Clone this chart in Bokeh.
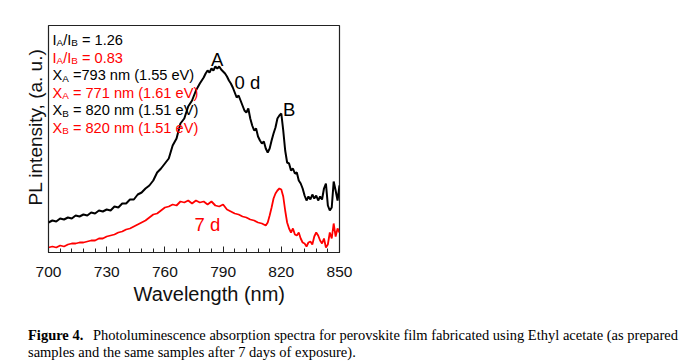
import math
from bokeh.plotting import figure
from bokeh.models import Range1d, Label, FixedTicker, Title, Div
from bokeh.layouts import column
from bokeh.embed import file_html
from bokeh.resources import INLINE

# ---------------- data ----------------
wl_0d = [700, 702, 704, 706, 708, 710, 712, 714, 716, 718, 720, 722, 724, 726, 728, 730,
         732, 734, 736, 738, 740, 742, 744, 746, 748, 750, 752, 754, 756, 758, 760, 762,
         764, 766, 768, 770, 772, 774, 776, 778, 780, 781, 782, 783, 784, 785, 786, 787,
         788, 789, 790, 791, 792, 793, 794, 795, 796, 797, 798, 799, 800, 801, 802, 803,
         804, 805, 806, 807, 808, 809, 810, 811, 812, 813, 814, 815, 816, 817, 818, 819,
         820, 821, 822, 823, 824, 825, 826, 827, 828, 829, 830, 831, 832, 833, 834, 835,
         836, 837, 838, 839, 840, 841, 842, 843, 844, 845, 846, 847, 848, 849, 850]
pl_0d = [0.30, 0.32, 0.31, 0.34, 0.33, 0.35, 0.34, 0.37, 0.36, 0.38, 0.37, 0.40, 0.39, 0.42, 0.41, 0.43,
         0.42, 0.46, 0.45, 0.49, 0.49, 0.53, 0.53, 0.58, 0.60, 0.64, 0.67, 0.72, 0.80, 0.84, 0.89, 0.94,
         1.07, 1.14, 1.29, 1.34, 1.46, 1.52, 1.62, 1.69, 1.75, 1.79, 1.82, 1.80, 1.84, 1.82, 1.86, 1.84,
         1.86, 1.83, 1.81, 1.79, 1.76, 1.72, 1.69, 1.65, 1.60, 1.55, 1.57, 1.52, 1.47, 1.42, 1.40, 1.44,
         1.34, 1.27, 1.22, 1.24, 1.16, 1.12, 1.09, 1.11, 1.04, 1.00, 1.04, 1.12, 1.19, 1.25, 1.34, 1.37,
         1.39, 1.22, 1.02, 0.90, 0.89, 0.82, 0.84, 0.79, 0.80, 0.72, 0.69, 0.64, 0.57, 0.52, 0.56, 0.53,
         0.58, 0.54, 0.57, 0.52, 0.56, 0.53, 0.64, 0.69, 0.47, 0.42, 0.45, 0.71, 0.62, 0.52, 0.67]

wl_7d = [700, 702, 704, 706, 708, 710, 712, 714, 716, 718, 720, 722, 724, 726, 728, 730,
         732, 734, 736, 738, 740, 742, 744, 746, 748, 750, 752, 754, 756, 758, 760, 762,
         764, 766, 768, 770, 772, 774, 776, 778, 780, 782, 784, 786, 788, 790, 792, 794,
         796, 798, 800, 802, 804, 806, 808, 810, 812, 813, 814, 815, 816, 817, 818, 819,
         820, 821, 822, 823, 824, 825, 826, 827, 828, 829, 830, 831, 832, 833, 834, 835,
         836, 837, 838, 839, 840, 841, 842, 843, 844, 845, 846, 847, 848, 849, 850]
pl_7d = [0.05, 0.06, 0.05, 0.07, 0.06, 0.08, 0.09, 0.09, 0.10, 0.10, 0.11, 0.12, 0.12, 0.14, 0.14, 0.16,
         0.17, 0.18, 0.20, 0.21, 0.23, 0.24, 0.26, 0.28, 0.30, 0.32, 0.35, 0.38, 0.39, 0.42, 0.45, 0.46,
         0.48, 0.47, 0.51, 0.50, 0.52, 0.49, 0.52, 0.50, 0.51, 0.48, 0.51, 0.47, 0.46, 0.48, 0.43, 0.41,
         0.39, 0.38, 0.36, 0.35, 0.33, 0.32, 0.30, 0.29, 0.27, 0.30, 0.37, 0.45, 0.54, 0.59, 0.62, 0.64,
         0.63, 0.56, 0.42, 0.30, 0.24, 0.20, 0.24, 0.18, 0.17, 0.20, 0.14, 0.10, 0.09, 0.06, 0.10, 0.11,
         0.08, 0.16, 0.20, 0.17, 0.12, 0.09, 0.14, 0.05, 0.08, 0.20, 0.14, 0.29, 0.16, 0.24, 0.20]

x_ticks = [700, 730, 760, 790, 820, 850]
minor_ticks = [700 + 6 * i for i in range(26)]

# ---------------- figure ----------------
W, H = 687, 315
FL, FT, FR, FB = 48, 25, 339, 252  # frame edges on the page
p = figure(width=W, height=H, output_backend="svg", toolbar_location=None,
           x_range=Range1d(700, 850), y_range=Range1d(0, 2.27),
           y_axis_location=None,
           min_border_left=FL, min_border_right=W - FR, min_border_top=FT,
           min_border_bottom=H - FB)
p.background_fill_color = "white"
p.border_fill_color = "white"
p.grid.visible = False
p.outline_line_color = "#222222"
p.outline_line_width = 1.2

ax = p.xaxis[0]
ax.ticker = FixedTicker(ticks=x_ticks, minor_ticks=minor_ticks)
ax.axis_line_color = "#222222"
ax.axis_line_width = 1.2
ax.major_tick_in = 6
ax.major_tick_out = 0
ax.minor_tick_in = 4
ax.minor_tick_out = 0
ax.major_tick_line_color = "#222222"
ax.minor_tick_line_color = "#222222"
ax.major_label_text_font = "Liberation Sans"
ax.major_label_text_font_size = "15.5px"
ax.major_label_text_color = "#111111"
ax.major_label_standoff = 14

p.line(wl_0d, pl_0d, line_color="black", line_width=2)
p.line(wl_7d, pl_7d, line_color="#ff0000", line_width=1.8)

# axis titles as side-panel titles (positioned with offsets)
p.add_layout(Title(text="Wavelength (nm)", align="left", offset=133 - FL, standoff=2,
                   text_font="Liberation Sans", text_font_size="20px",
                   text_font_style="normal", text_color="#111111"), "below")
p.add_layout(Title(text="PL intensity, (a. u.)", align="left", offset=FB - 205, standoff=6,
                   text_font="Liberation Sans", text_font_size="19px",
                   text_font_style="normal", text_color="#111111"), "left")

# ---------------- text helpers ----------------
AW = {' ': 278, '(': 333, ')': 333, '.': 278, '/': 278, '=': 584, 'A': 667, 'B': 667,
      'I': 278, 'V': 667, 'X': 667, 'e': 556, 'm': 833, 'n': 556}
for d in "0123456789":
    AW[d] = 556


def tw(s, size):
    return sum(AW.get(c, 556) for c in s) * size / 1000.0


def lab(text, px, py, size, color="black"):
    p.add_layout(Label(x=px - FL, y=FB - py, x_units="screen", y_units="screen",
                       text=text, text_font="Liberation Sans", text_font_size=f"{size:.1f}px",
                       text_color=color, text_align="left", text_baseline="alphabetic"))


def rich(segments, px, py, size, color):
    x = px
    for txt, sub in segments:
        s = size * 0.68 if sub else size
        lead = len(txt) - len(txt.lstrip(" "))
        x += tw(" " * lead, s)
        body = txt.lstrip(" ")
        lab(body, x, py + (3 if sub else 0), s, color)
        x += tw(body, s)


RED = "#ff0000"
fs = 14.6
rich([("I", 0), ("A", 1), ("/I", 0), ("B", 1), (" = 1.26", 0)], 52, 39, fs, "black")
rich([("I", 0), ("A", 1), ("/I", 0), ("B", 1), (" = 0.83", 0)], 52, 57, fs, RED)
rich([("X", 0), ("A", 1), (" =793 nm (1.55 eV)", 0)], 52, 74.5, fs, "black")
rich([("X", 0), ("A", 1), (" = 771 nm (1.61 eV)", 0)], 52, 92, fs, RED)
rich([("X", 0), ("B", 1), (" = 820 nm (1.51 eV)", 0)], 52, 109.5, fs, "black")
rich([("X", 0), ("B", 1), (" = 820 nm (1.51 eV)", 0)], 52, 127, fs, RED)

lab("A", 210.5, 59, 18.5)
lab("0 d", 234, 81.5, 18.5)
lab("B", 282.5, 109, 18.5)
lab("7 d", 194, 224, 18.5, RED)

# ---------------- caption ----------------
caption_bold = "Figure 4."
caption_line1 = "Photoluminescence absorption spectra for perovskite film fabricated using Ethyl acetate (as prepared"
caption_line2 = "samples and the same samples after 7 days of exposure)."
cap = Div(text=(
    '<div style="padding:7px 0 0 23px; font-family:\'Liberation Serif\', serif; '
    'font-size:14.5px; line-height:16.5px; color:#000; white-space:nowrap;">'
    f'<b style="display:inline-block; width:65px;">{caption_bold}</b>{caption_line1}'
    f'<br>{caption_line2}</div>'),
    width=W, height=363 - H)

layout = column(p, cap, spacing=0)
open("out.html", "w").write(file_html(layout, INLINE))
